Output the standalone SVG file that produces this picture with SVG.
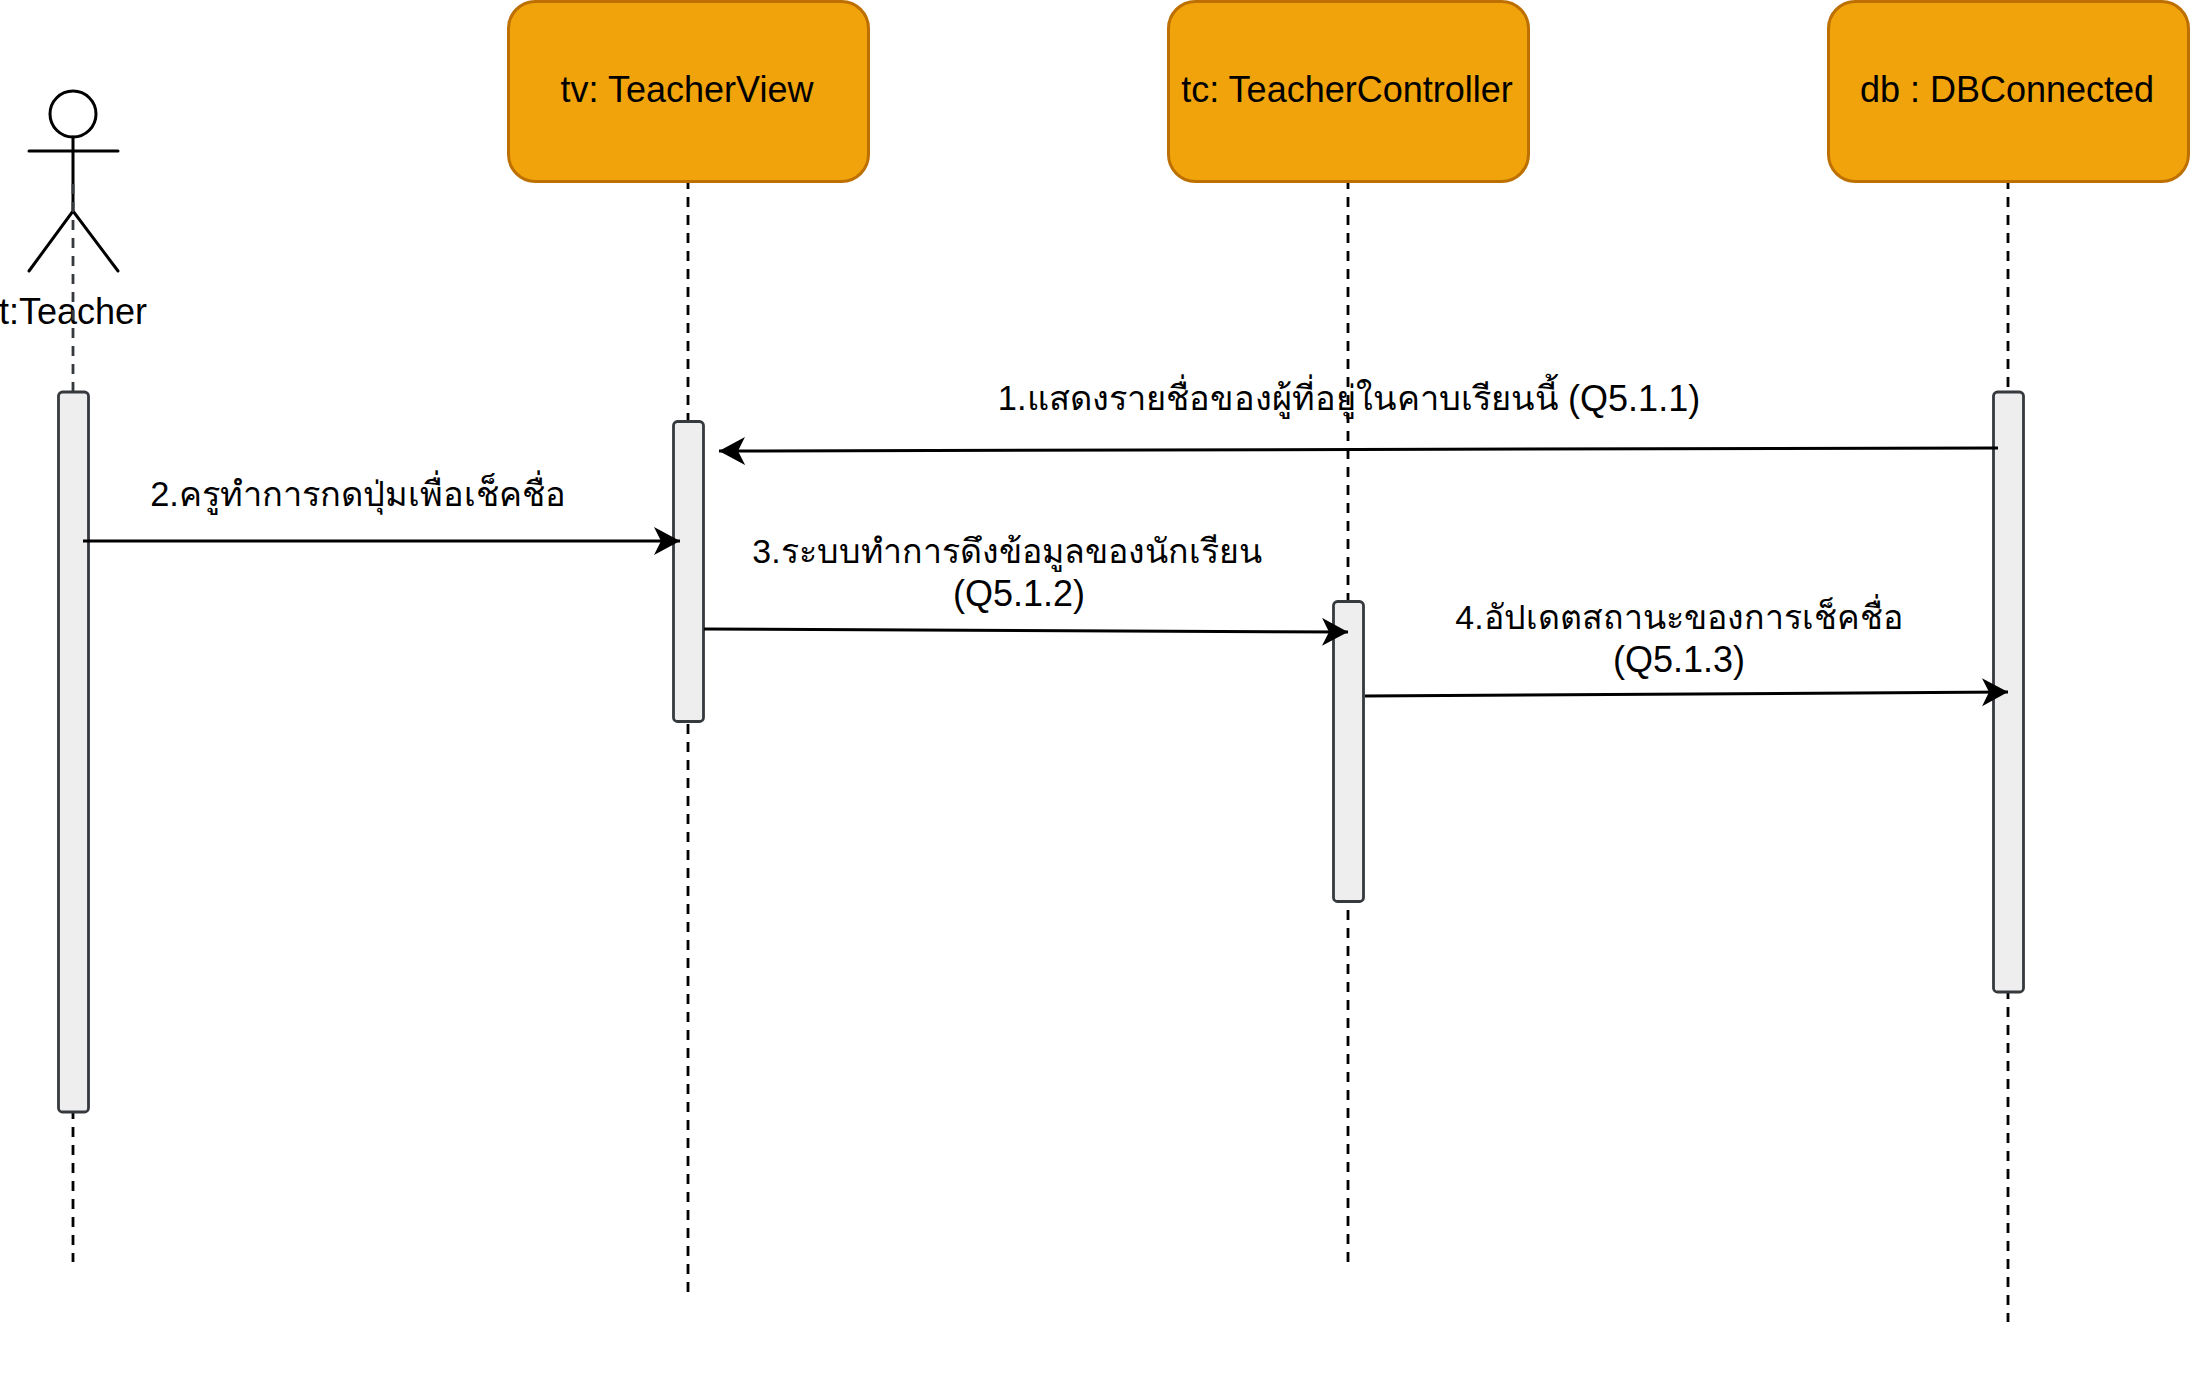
<svg xmlns="http://www.w3.org/2000/svg" width="2190" height="1398" viewBox="0 0 2190 1398">
<style>
text{font-family:"Liberation Sans","Noto Sans",sans-serif;font-size:36px;fill:#000;text-anchor:middle}
.th{font-size:34.4px}
.th2{font-size:33.9px}
.box{fill:#f0a30a;stroke:#bd7000;stroke-width:3}
.life{fill:none;stroke:#000;stroke-width:2.8;stroke-dasharray:10 8}
.act{fill:#eeeeee;stroke:#36393d;stroke-width:2.8}
.msg{fill:none;stroke:#000;stroke-width:3;marker-end:url(#arrow)}
.stick{fill:#fff;stroke:#000;stroke-width:3;stroke-linecap:round}
</style>
<defs>
<marker id="arrow" markerUnits="userSpaceOnUse" markerWidth="30" markerHeight="30" refX="26" refY="14" orient="auto">
<path d="M0 0L26 14L0 28L7 14Z" fill="#000"/>
</marker>
</defs>
<g id="actor">
<circle class="stick" cx="73" cy="114" r="23"/>
<path class="stick" fill="none" d="M73 137V211M29 151H118M29 271L73 211L118 271"/>
<text x="73" y="324">t:Teacher</text>
</g>
<g id="connectors">
<path class="life" style="stroke:#36393d" d="M73 184V392"/>
<path class="life" d="M73 1109V1262"/>
<path class="life" d="M688 179V421M688 706V1292"/>
<path class="life" d="M1348 179V602M1348 892V1262"/>
<path class="life" d="M2008 179V392M2008 989V1322"/>
</g>
<g id="tv"><rect class="box" x="508.500" y="1.500" width="360" height="180" rx="27"/><text x="687" y="102">tv: TeacherView</text></g>
<g id="tc"><rect class="box" x="1168.500" y="1.500" width="360" height="180" rx="27"/><text x="1347" y="102">tc: TeacherController</text></g>
<g id="db"><rect class="box" x="1828.500" y="1.500" width="360" height="180" rx="27"/><text x="2007" y="102">db : DBConnected</text></g>
<g id="act-t"><rect class="act" x="58.500" y="392" width="30" height="720" rx="4"/></g>
<g id="act-tv"><rect class="act" x="673.500" y="421.500" width="30" height="300" rx="4"/></g>
<g id="act-tc"><rect class="act" x="1333.500" y="601.500" width="30" height="300" rx="4"/></g>
<g id="act-db"><rect class="act" x="1993.500" y="392" width="30" height="600" rx="4"/></g>
<g id="messages">
<path class="msg" d="M1998 448L719 451"/>
<path class="msg" d="M83 541L680 541"/>
<path class="msg" d="M704 629L1348 632"/>
<path class="msg" d="M1365 696L2008 692"/>
</g>
<g id="labels">
<text x="1349" y="410"><tspan class="th">1.แสดงรายชื่อของผู้ที่อยู่ในคาบเรียนนี้ </tspan><tspan dy="1">(Q5.1.1)</tspan></text>
<text class="th" x="358" y="506">2.ครูทำการกดปุ่มเพื่อเช็คชื่อ</text>
<text class="th2" x="1007" y="563">3.ระบบทำการดึงข้อมูลของนักเรียน</text>
<text x="1019" y="606">(Q5.1.2)</text>
<text class="th2" x="1679" y="629">4.อัปเดตสถานะของการเช็คชื่อ</text>
<text x="1679" y="672">(Q5.1.3)</text>
</g>
</svg>
